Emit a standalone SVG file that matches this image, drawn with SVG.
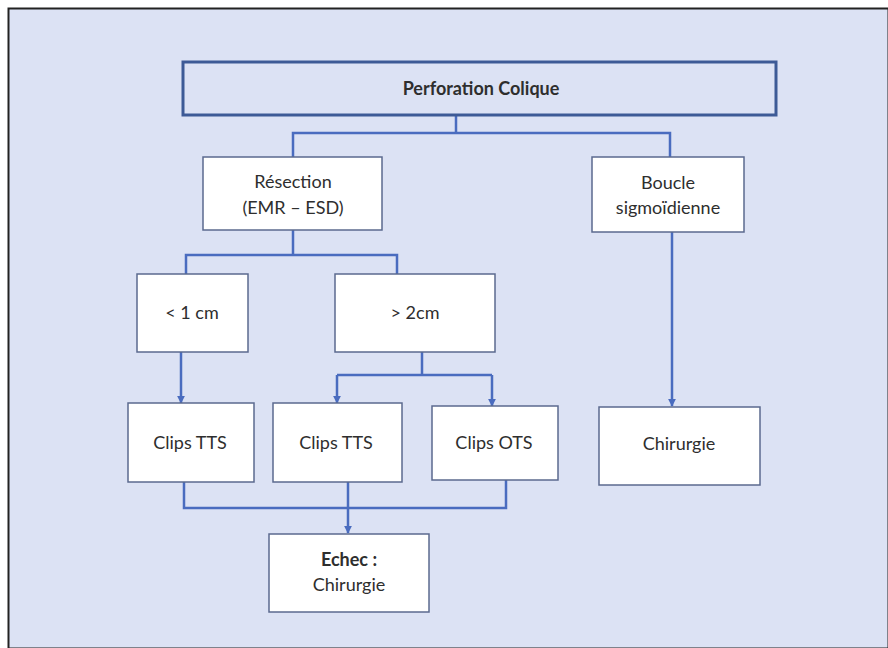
<svg xmlns="http://www.w3.org/2000/svg" width="888" height="648" viewBox="0 0 888 648">
<defs>
<style>
.bg{fill:#dce2f4}
.box{fill:#ffffff;stroke:#5b6a8e;stroke-width:1.5}
.top{fill:#dce2f4;stroke:#3d5a96;stroke-width:3}
.t{font-family:Lato,"Open Sans","Liberation Sans",sans-serif;font-size:18px;fill:#2e2e2e;text-anchor:middle}
.b{font-weight:bold}
.c{fill:none;stroke:#4a6cbf;stroke-width:2.5}
</style>
<marker id="ah" viewBox="0 0 10 10" refX="9" refY="5" markerWidth="3.2" markerHeight="3.2" orient="auto">
<path d="M0,0 L10,5 L0,10 z" fill="#4a6cbf"/>
</marker>
</defs>
<rect x="0" y="0" width="888" height="648" fill="#ffffff"/>
<rect x="8.5" y="8.5" width="880" height="640" class="bg" stroke="#222222" stroke-width="2"/>
<g id="connectors">
<path class="c" d="M456,115 V133 M293,157 V133 H670 V157"/>
<path class="c" d="M293,230 V255 M186,274 V255 H397 V274"/>
<path class="c" d="M181,352 V403" marker-end="url(#ah)"/>
<path class="c" d="M422,352 V375 M337,375 H492"/>
<path class="c" d="M337,375 V403" marker-end="url(#ah)"/>
<path class="c" d="M492,375 V406" marker-end="url(#ah)"/>
<path class="c" d="M672,232 V406" marker-end="url(#ah)"/>
<path class="c" d="M184,482 V508 H506 V480"/>
<path class="c" d="M348,482 V533" marker-end="url(#ah)"/>
</g>
<g id="perforation">
<rect class="top" x="183" y="62" width="593" height="53"/>
<text class="t b" x="481" y="95">Perforation Colique</text>
</g>
<g id="resection">
<rect class="box" x="203" y="157" width="179" height="73"/>
<text class="t" x="293" y="188">Résection</text>
<text class="t" x="293" y="214">(EMR – ESD)</text>
</g>
<g id="boucle">
<rect class="box" x="592" y="157" width="152" height="75"/>
<text class="t" x="668" y="189">Boucle</text>
<text class="t" x="668" y="214">sigmoïdienne</text>
</g>
<g id="lt1">
<rect class="box" x="137" y="274" width="111" height="78"/>
<text class="t" x="192" y="319">&lt; 1 cm</text>
</g>
<g id="gt2">
<rect class="box" x="335" y="274" width="160" height="78"/>
<text class="t" x="415" y="319">&gt; 2cm</text>
</g>
<g id="clipstts1">
<rect class="box" x="128" y="403" width="126" height="79"/>
<text class="t" x="190" y="449">Clips TTS</text>
</g>
<g id="clipstts2">
<rect class="box" x="273" y="403" width="129" height="79"/>
<text class="t" x="336" y="449">Clips TTS</text>
</g>
<g id="clipsots">
<rect class="box" x="432" y="406" width="126" height="74"/>
<text class="t" x="494" y="449">Clips OTS</text>
</g>
<g id="chirurgie">
<rect class="box" x="599" y="407" width="161" height="78"/>
<text class="t" x="679" y="450">Chirurgie</text>
</g>
<g id="echec">
<rect class="box" x="269" y="534" width="160" height="78"/>
<text class="t b" x="349" y="566">Echec :</text>
<text class="t" x="349" y="591">Chirurgie</text>
</g>
</svg>
